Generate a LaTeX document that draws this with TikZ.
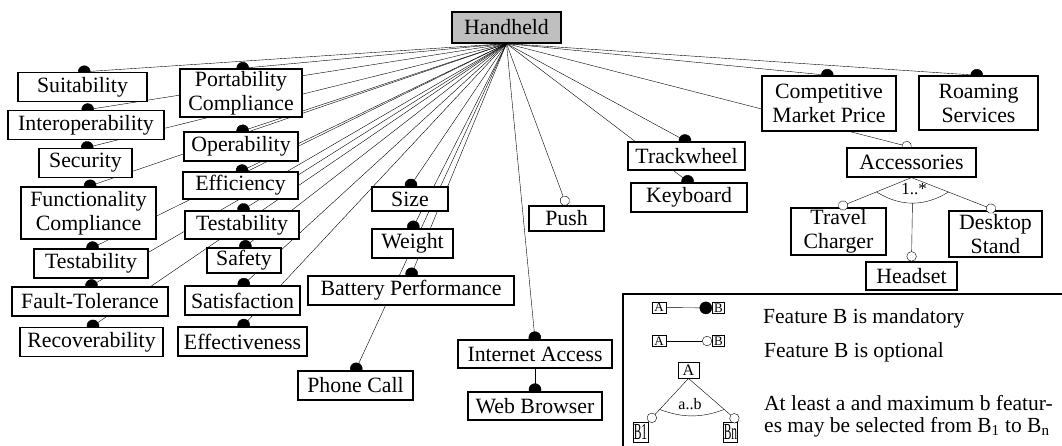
\documentclass[tikz,border=0pt]{standalone}
\usepackage{fontspec}
\setmainfont{Liberation Serif}
\usepackage{graphicx}
\usetikzlibrary{arrows.meta,calc}
\pgfdeclarelayer{background}
\pgfsetlayers{background,main}

\begin{document}
\begin{tikzpicture}
			[x=1pt, y=-1pt, line width=1pt, align=center,
			feat/.style={draw, fill=white, line width=1.2pt, inner sep=1pt, minimum height=29, font=\fontsize{21.8}{24}\selectfont},
			root/.style={feat, fill=black!25},
			lbox/.style={draw, fill=white, line width=0.9pt, inner sep=0.5pt, font=\fontsize{13}{13}\selectfont},
			mand/.style={-{Circle[length=12.5pt]}, shorten >=-4.5pt},
			opt/.style={-{Circle[length=10pt, fill=white]}},
			note/.style={font=\fontsize{21.5}{22}\selectfont, align=left, anchor=west, inner sep=0pt}]
			\useasboundingbox (0,0) rectangle (1062,446);
			\node[root, minimum width=109, minimum height=31] (hh) at (506.5,27.5) {Handheld};
			% functionality side
			\node[feat, minimum width=129] (suit) at (82.5,87) {Suitability};
			\node[feat, minimum width=156] (interop) at (86,125) {Interoperability};
			\node[feat, minimum width=93] (sec) at (85.5,163) {Security};
			\node[feat, minimum width=135, minimum height=52] (funcc) at (88.5,213) {Functionality\\Compliance};
			\node[feat, minimum width=114] (testl) at (91,263.5) {Testability};
			\node[feat, minimum width=156] (fault) at (90,301.5) {Fault-Tolerance};
			\node[feat, minimum width=143] (recov) at (91.5,342) {Recoverability};
			\node[feat, minimum width=122, minimum height=48] (port) at (241,93) {Portability\\Compliance};
			\node[feat, minimum width=114] (oper) at (241,146.5) {Operability};
			\node[feat, minimum width=115, minimum height=27] (effic) at (240.5,185.5) {Efficiency};
			\node[feat, minimum width=114, minimum height=28] (testm) at (242,225) {Testability};
			\node[feat, minimum width=74, minimum height=25] (safety) at (244,260.5) {Safety};
			\node[feat, minimum width=115] (satis) at (242.5,300.5) {Satisfaction};
			\node[feat, minimum width=129] (effect) at (242.5,341.5) {Effectiveness};
			% device side
			\node[feat, minimum width=76, minimum height=24] (size) at (410,199) {Size};
			\node[feat, minimum width=81] (weight) at (412.5,243.5) {Weight};
			\node[feat, minimum width=206] (batt) at (411,290.5) {Battery Performance};
			\node[feat, minimum width=115] (phone) at (355.5,385.5) {Phone Call};
			\node[feat, minimum width=75, minimum height=25] (push) at (566.5,218.5) {Push};
			\node[feat, minimum width=154, minimum height=28] (inet) at (535,354) {Internet Access};
			\node[feat, minimum width=134, minimum height=28] (web) at (535,406) {Web Browser};
			\node[feat, minimum width=117, minimum height=28] (track) at (686.5,156) {Trackwheel};
			\node[feat, minimum width=116] (keyb) at (689,197.5) {Keyboard};
			\node[feat, minimum width=134, minimum height=55] (cmp) at (829,103.5) {Competitive\\Market Price};
			\node[feat, minimum width=119, minimum height=54] (roam) at (978.5,103) {Roaming\\Services};
			\node[feat, minimum width=129] (acc) at (911.5,162.5) {Accessories};
			\node[feat, minimum width=95, minimum height=47] (travel) at (838.5,231.5) {Travel\\Charger};
			\node[feat, minimum width=93, minimum height=46] (desk) at (995.5,234) {Desktop\\Stand};
			\node[feat, minimum width=91, minimum height=28] (headset) at (911.5,276) {Headset};
			\begin{pgfonlayer}{background}
			\path[mand] (hh.south)
			edge (suit.north) edge (interop.north) edge (sec.north) edge (funcc.north)
			edge (testl.north) edge (fault.north) edge (recov.north)
			edge (port.north) edge (oper.north) edge (effic.north) edge (testm.north)
			edge (safety.north) edge (satis.north) edge (effect.north)
			edge (size.north) edge (weight.north) edge (batt.north) edge (phone.north)
			edge (inet.north) edge (track.north) edge (keyb.north)
			edge (cmp.north) edge (roam.north);
			\path[opt] (hh.south) edge (push.north) edge (acc.north);
			\draw[mand] (inet) -- (web);
			\end{pgfonlayer}
			% 1..* group
			\path[opt] (acc.south) edge (travel.north) edge (desk.north);
			\draw ($(acc.south)!0.48!(travel.north)$) to[bend right=32] coordinate[pos=0.5] (accmid) ($(acc.south)!0.44!(desk.north)$);
			\draw[opt] (accmid) -- (headset.north);
			\node[font=\fontsize{17}{17}\selectfont] (card) at (914,189) {1..*};
			% legend
			\draw[line width=1.2pt] (1062,294) -| (623,446);
			\node[lbox, minimum width=14, minimum height=11] (la1) at (659,307.5) {A};
			\node[lbox, minimum width=12, minimum height=11] (lb1) at (718.5,308) {B};
			\draw[mand, shorten >=0pt] (la1) -- (lb1);
			\node[lbox, minimum width=14, minimum height=11] (la2) at (659,341) {A};
			\node[lbox, minimum width=12, minimum height=11] (lb2) at (718.5,341) {B};
			\draw[opt] (la2) -- (lb2);
			\node[lbox, minimum width=21, minimum height=16, font=\fontsize{16}{16}\selectfont] (la3) at (688.5,370) {A};
			\node[lbox, minimum width=15, minimum height=20] (lb3) at (640.5,432) {\scalebox{0.5}[1]{\fontsize{23}{23}\selectfont B1}};
			\node[lbox, minimum width=13, minimum height=20] (lbn) at (730.5,432) {\scalebox{0.5}[1]{\fontsize{23}{23}\selectfont Bn}};
			\path[opt] (la3.south) edge (lb3.north east) edge (lbn.north east);
			\draw ($(la3.south)!0.72!(lb3.north east)$) to[bend right=20] ($(la3.south)!0.72!(lbn.north east)$);
			\node[font=\fontsize{16}{16}\selectfont] (lcard) at (690,404) {a..b};
			\node[note] (n1) at (763,318) {Feature B is mandatory};
			\node[note] (n2) at (764,352) {Feature B is optional};
			\node[note] (n3) at (764,416) {At least a and maximum b featur-\\es may be selected from B\textsubscript{1} to B\textsubscript{n}};
		\end{tikzpicture}
\end{document}
